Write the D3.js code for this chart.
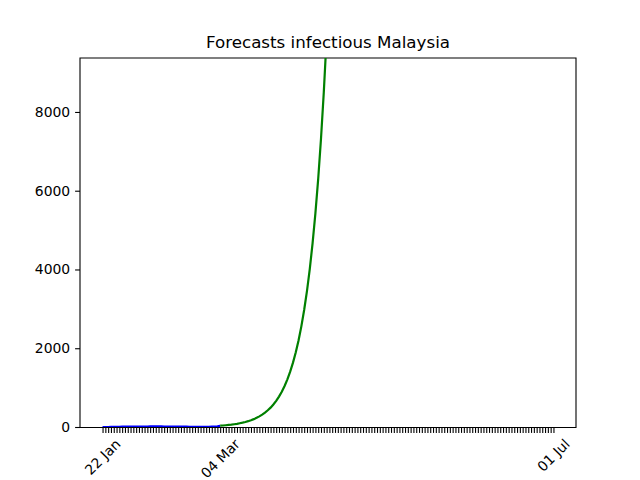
<!DOCTYPE html>
<html>
<head>
<meta charset="utf-8">
<script src="https://cdn.jsdelivr.net/npm/d3@7"></script>
<style>
  body { margin: 0; background: #fff; }
  svg { font-family: "DejaVu Sans", sans-serif; }
</style>
</head>
<body>
<svg id="chart" width="640" height="480"></svg>
<script>
// observed infectious, daily from 22 Jan 2020
let obsStart = "2020-01-22"
let observed = [0, 0, 0, 3, 4, 4, 4, 7, 8, 8, 8, 8, 8, 10, 12, 12, 13, 14, 14, 15, 15, 14, 13, 13, 12, 12, 11, 10, 9, 8, 7, 6, 6, 5, 5, 4, 4, 3, 5, 7, 9, 16, 28]
// forecast infectious, daily from 04 Mar 2020
let fcStart = "2020-03-04"
let forecast = [33, 38, 45, 52, 60, 70, 81, 95, 110, 128, 148, 172, 200, 233, 270, 314, 365, 424, 492, 572, 664, 772, 897, 1042, 1210, 1406, 1634, 1898, 2205, 2562, 2977, 3458, 4018, 4668, 5423, 6301, 7320, 8505, 9881, 11480, 13337]
let tickLabels = ["2020-01-22", "2020-03-04", "2020-07-01"]
let yTicks = [0, 2000, 4000, 6000, 8000]
let yMax = 9370

let width = 640
let height = 480
let margin = { left: 80, right: 64, top: 58, bottom: 53 }

let svg = d3.select("#chart")
let parse = d3.utcParse("%Y-%m-%d")
let fmt = d3.utcFormat("%d %b")

let first = parse(tickLabels[0])
let last = parse(tickLabels[tickLabels.length - 1])
let span = last - first
let xScale = d3.scaleUtc()
    .domain([new Date(+first - span * 0.05), new Date(+last + span * 0.05)])
    .range([margin.left, width - margin.right])
let yScale = d3.scaleLinear()
    .domain([0, yMax])
    .range([height - margin.bottom, margin.top])

let plotW = width - margin.left - margin.right
let plotH = height - margin.top - margin.bottom

svg.append("clipPath").attr("id", "plotClip")
    .append("rect")
    .attr("x", margin.left).attr("y", margin.top)
    .attr("width", plotW).attr("height", plotH)

// frame (bottom spine drawn just under the zero line)
let frame = svg.append("g").attr("stroke", "#000").attr("stroke-width", 1.1).attr("fill", "none")
frame.append("path")
    .attr("d", "M" + margin.left + "," + (margin.top + plotH + 0.5) +
        "V" + margin.top + "H" + (margin.left + plotW) + "V" + (margin.top + plotH + 0.5) + "Z")

function series(startStr, vals) {
    let s = parse(startStr)
    return vals.map((v, i) => ({ date: d3.utcDay.offset(s, i), value: v }))
}

let line = d3.line()
    .x(d => xScale(d.date))
    .y(d => yScale(d.value))

let plot = svg.append("g").attr("clip-path", "url(#plotClip)")
plot.append("path")
    .datum(series(obsStart, observed))
    .attr("fill", "none").attr("stroke", "#0000ff").attr("stroke-width", 2.2)
    .attr("d", line)
plot.append("path")
    .datum(series(fcStart, forecast))
    .attr("fill", "none").attr("stroke", "#008000").attr("stroke-width", 2.2)
    .attr("d", line)

// x axis: a tick for every day, labels only for some
let dayTicks = d3.utcDay.range(first, d3.utcDay.offset(last, 1))
let xAxis = svg.append("g")
    .attr("transform", "translate(0," + (height - margin.bottom + 1) + ")")
    .call(d3.axisBottom(xScale).tickValues(dayTicks).tickSize(4.9).tickFormat(""))
xAxis.select(".domain").remove()
xAxis.selectAll(".tick line").attr("stroke", "#000").attr("stroke-width", 1.1)

tickLabels.forEach(t => {
    let d = parse(t)
    let x = xScale(d)
    let txt = svg.append("text")
        .attr("font-size", 13.9)
        .attr("text-anchor", "middle")
        .attr("dominant-baseline", "central")
        .attr("fill", "#000")
        .text(fmt(d))
    let len = txt.node().getComputedTextLength()
    let cy = height - margin.bottom + 4.9 + 4.9 + (len + 13) / (2 * Math.SQRT2)
    txt.attr("transform", "translate(" + x + "," + cy + ") rotate(-45)")
})

// y axis
let yAxis = svg.append("g")
    .attr("transform", "translate(" + margin.left + ",0)")
    .call(d3.axisLeft(yScale).tickValues(yTicks).tickSize(4.9).tickPadding(4.9).tickFormat(d3.format("d")))
yAxis.select(".domain").remove()
yAxis.selectAll(".tick line").attr("stroke", "#000").attr("stroke-width", 1.1)
yAxis.selectAll(".tick text").attr("font-size", 13.9).attr("fill", "#000").attr("font-family", "DejaVu Sans")

// title
svg.append("text")
    .attr("x", (margin.left + width - margin.right) / 2)
    .attr("y", margin.top - 10)
    .attr("text-anchor", "middle")
    .attr("font-size", 16.7)
    .attr("fill", "#000")
    .text("Forecasts infectious Malaysia")
</script>
</body>
</html>
